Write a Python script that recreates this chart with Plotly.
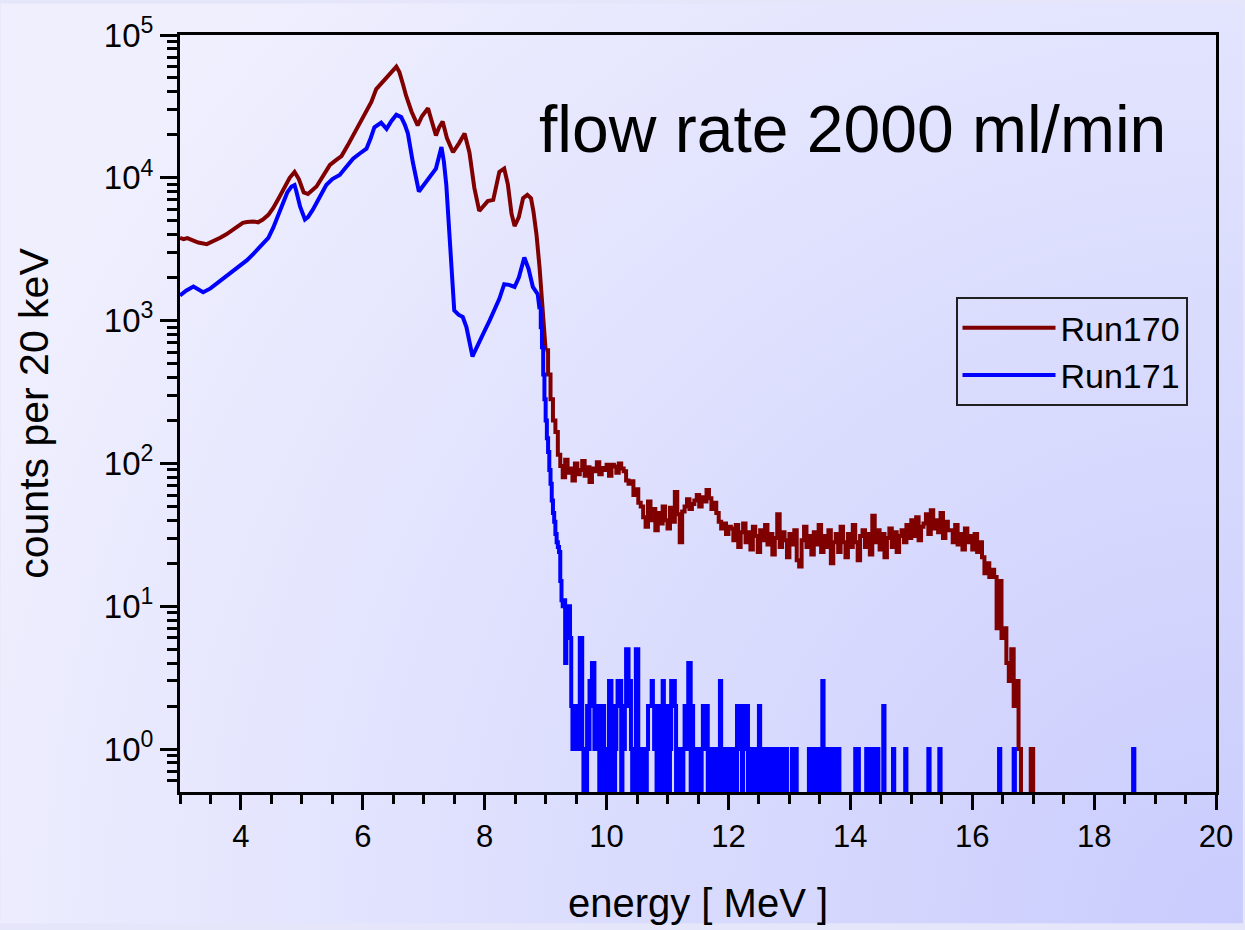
import base64
import numpy as np
import plotly.graph_objects as go

# ---------------------------------------------------------------------------
# Run170: smooth low-energy part, read as (energy [MeV], counts per 20 keV)
run170_knot_e = [3.00, 3.06, 3.12, 3.20, 3.30, 3.44, 3.55, 3.66, 3.76, 3.90,
                 4.03, 4.10, 4.20, 4.28, 4.36, 4.45, 4.53, 4.62, 4.70, 4.80,
                 4.88, 4.95, 5.03, 5.10, 5.24, 5.35, 5.46, 5.56, 5.65, 5.75,
                 5.84, 5.95, 6.06, 6.14, 6.22, 6.30, 6.39, 6.47, 6.55, 6.60,
                 6.66, 6.71, 6.80, 6.90, 6.97, 7.07, 7.13, 7.20, 7.25, 7.31,
                 7.38, 7.48, 7.58, 7.67, 7.75, 7.83, 7.91, 7.98, 8.05, 8.14,
                 8.24, 8.32, 8.38, 8.44, 8.49, 8.56, 8.63, 8.70, 8.76, 8.80,
                 8.85, 8.90, 8.95, 9.00]
run170_knot_n = [3790, 3720, 3780, 3650, 3520, 3430, 3600, 3800, 4020, 4400,
                 4840, 4900, 4950, 4880, 5100, 5500, 6150, 7200, 8460, 10000,
                 11000, 9800, 7900, 7700, 8690, 10500, 12300, 13300, 14200, 16800,
                 19800, 23500, 28800, 34000, 41800, 46000, 50300, 55000, 60000, 55000,
                 45000, 37600, 29000, 23300, 27000, 30700, 25000, 19800, 22500, 24800,
                 19000, 15100, 17500, 20400, 15000, 8500, 5860, 6300, 6870, 7000,
                 11000, 11600, 9000, 5600, 4590, 5300, 7200, 7600, 7200, 5800,
                 4000, 2360, 1300, 620]

# Run170: binned high-energy part, 40 keV steps starting at 9.00 MeV
run170_fine_start = 9.00
run170_fine_step = 0.04
run170_fine_n = [
    620, 420, 281, 200, 166, 115,
    96, 80, 106, 86, 92, 76, 100, 84, 90, 104, 82, 94, 74, 92, 88, 102, 84, 93,
    90, 98, 82, 98, 95, 86, 100, 92,
    88, 76, 72, 75, 60, 66, 53,
    50, 42, 36, 54, 40, 48, 34, 45, 38, 50, 40, 35, 49, 39, 63, 44, 28, 46,
    50, 56, 48, 52, 55, 60, 50, 58, 54, 65, 57, 48, 53,
    45, 39, 35, 38, 32, 36,
    35, 29, 37, 26, 33, 38, 28, 33, 25, 36, 31, 24, 34, 29, 37, 27, 32, 23,
    30, 44, 26, 33, 29, 22, 32, 27, 34, 21, 19, 29, 36, 26, 31, 23, 33, 27,
    37, 24, 31, 26, 34, 20, 28, 32, 24, 36, 28, 22, 32, 26, 37, 28, 21, 31,
    34, 26, 32, 23, 43, 28, 34, 25, 32, 22, 30, 35, 26, 33, 24, 31,
    34, 28, 37, 30, 40, 31, 42, 29, 36, 38, 44, 32, 47, 35, 40, 33, 45, 30,
    39, 34,
    34, 28, 37, 27, 32, 25, 35, 28, 31, 25, 32, 24, 28,
    22, 17, 20, 16, 18, 16, 7, 15, 6, 7, 4, 3, 5, 2, 3, 1, 0, 0, 0, 0, 1, 0,
    0, 0,
]

# Run171: smooth low-energy part
run171_knot_e = [3.00, 3.10, 3.22, 3.30, 3.38, 3.50, 3.60, 3.70, 3.76, 3.88,
                 3.98, 4.10, 4.20, 4.36, 4.45, 4.53, 4.62, 4.69, 4.76, 4.83,
                 4.88, 4.91, 4.97, 5.05, 5.10, 5.18, 5.30, 5.40, 5.50, 5.62,
                 5.72, 5.84, 5.95, 6.06, 6.13, 6.19, 6.30, 6.39, 6.47, 6.55,
                 6.63, 6.69, 6.74, 6.82, 6.92, 7.00, 7.09, 7.20, 7.29, 7.33,
                 7.37, 7.41, 7.45, 7.50, 7.57, 7.64, 7.70, 7.75, 7.80, 7.83,
                 7.90, 8.00, 8.08, 8.16, 8.24, 8.32, 8.40, 8.49, 8.56, 8.65,
                 8.72, 8.79, 8.87, 8.90]
run171_knot_n = [1500, 1620, 1730, 1650, 1580, 1680, 1810, 1950, 2070, 2250,
                 2420, 2650, 2920, 3430, 3800, 4470, 5600, 6860, 7900, 8690,
                 8900, 8020, 6300, 5100, 5300, 5980, 7400, 8910, 9800, 10470,
                 11800, 13600, 14800, 16000, 19000, 22600, 24300, 22000, 25000, 27600,
                 26600, 23500, 20400, 12900, 8020, 8900, 9800, 11600, 16400, 13000,
                 8910, 4500, 2360, 1180, 1100, 1060, 900, 733, 560, 600,
                 700, 850, 1000, 1200, 1420, 1800, 1780, 1720, 2000, 2770,
                 2300, 1720, 1530, 1200]

# Run171: steep edge in 20 keV bins starting at 8.90 MeV
run171_edge_start = 8.90
run171_bin = 0.02
run171_edge_n = [1200, 900, 650, 420, 281, 200, 150, 120, 90, 72, 55, 45, 39,
                 32, 28, 26, 24, 15, 11, 10, 11, 4, 10, 6, 10]

# Run171: occupied 20 keV bins above 9.40 MeV (all other bins are empty)
run171_tail_e = [
    9.40, 9.42, 9.44, 9.46, 9.48, 9.50, 9.52, 9.54, 9.56, 9.58, 9.60, 9.64,
    9.68, 9.70, 9.72, 9.74, 9.76, 9.78, 9.80, 9.82, 9.84, 9.86, 9.90, 9.94,
    9.98, 10.02, 10.04, 10.06, 10.10, 10.14, 10.16, 10.18, 10.20, 10.22, 10.26,
    10.28, 10.30, 10.32, 10.34, 10.36, 10.38, 10.40, 10.44, 10.48, 10.50, 10.54,
    10.58, 10.62, 10.66, 10.68, 10.70, 10.72, 10.74, 10.76, 10.78, 10.80, 10.84,
    10.86, 10.88, 10.92, 10.96, 11.00, 11.04, 11.06, 11.08, 11.10, 11.12, 11.16,
    11.20, 11.26, 11.28, 11.30, 11.32, 11.34, 11.36, 11.40, 11.44, 11.48, 11.52,
    11.56, 11.58, 11.60, 11.62, 11.64, 11.68, 11.72, 11.76, 11.80, 11.82, 11.86,
    11.90, 11.94, 11.98, 12.02, 12.06, 12.10, 12.14, 12.16, 12.18, 12.20, 12.24,
    12.26, 12.28, 12.30, 12.34, 12.38, 12.42, 12.46, 12.50, 12.54, 12.58, 12.62,
    12.66, 12.70, 12.74, 12.78, 12.82, 12.86, 12.94, 13.04, 13.10, 13.32, 13.36,
    13.40, 13.44, 13.48, 13.54, 13.58, 13.62, 13.66, 13.70, 13.74, 13.80, 14.08,
    14.12, 14.26, 14.30, 14.34, 14.40, 14.44, 14.54, 14.70, 14.90, 15.28, 15.46,
    16.44, 16.68, 18.64,
]
run171_tail_n = [
    6, 2, 1, 2, 1, 2, 1, 2, 6, 6, 1, 1,
    2, 1, 3, 2, 4, 4, 1, 2, 1, 2, 1, 2,
    1, 1, 3, 3, 2, 1, 2, 3, 2, 3, 2,
    1, 2, 5, 5, 2, 3, 1, 1, 5, 5, 1,
    1, 1, 1, 2, 2, 2, 3, 2, 1, 2, 1,
    2, 1, 3, 1, 2, 1, 3, 3, 3, 2, 1,
    1, 1, 2, 2, 1, 4, 4, 2, 1, 1, 1,
    1, 2, 2, 1, 2, 1, 1, 1, 1, 1, 3,
    1, 1, 1, 1, 1, 1, 2, 2, 1, 2, 2,
    2, 1, 2, 1, 1, 1, 1, 2, 1, 1, 1,
    1, 1, 1, 1, 1, 1, 1, 1, 1, 1, 1,
    1, 1, 1, 3, 1, 1, 1, 1, 1, 1, 1,
    1, 1, 1, 1, 1, 1, 2, 1, 1, 1, 1,
    1, 1, 1,
]
run171_tail_end = 20.00

y_tick_vals = [1, 10, 100, 1000, 10000, 100000]
y_tick_text = ["10<sup>0</sup>", "10<sup>1</sup>", "10<sup>2</sup>",
               "10<sup>3</sup>", "10<sup>4</sup>", "10<sup>5</sup>"]
x_tick_vals = [4, 6, 8, 10, 12, 14, 16, 18, 20]

RED = "#800000"
BLUE = "#0000ff"
EMPTY = 0.3  # empty bins are drawn below the lower edge of the log axis

# ---------------------------------------------------------------------------
red_fine_e = run170_fine_start + run170_fine_step * np.arange(len(run170_fine_n))
red_fine_y = np.where(np.array(run170_fine_n) > 0, run170_fine_n, EMPTY)

edge_e = run171_edge_start + run171_bin * np.arange(len(run171_edge_n))
tail_e = np.round(np.arange(9.40, run171_tail_end + 1e-9, run171_bin), 2)
tail_n = np.zeros(len(tail_e))
for e, n in zip(run171_tail_e, run171_tail_n):
    tail_n[int(round((e - 9.40) / run171_bin))] = n
blue_fine_e = np.concatenate([edge_e, tail_e])
blue_fine_n = np.concatenate([run171_edge_n, tail_n])
blue_fine_y = np.where(blue_fine_n > 0, blue_fine_n, EMPTY)

LW = 4
fig = go.Figure()
fig.add_trace(go.Scatter(x=run170_knot_e, y=run170_knot_n, mode="lines",
                         line=dict(color=RED, width=LW), name="Run170",
                         legendgroup="170", showlegend=True))
fig.add_trace(go.Scatter(x=red_fine_e, y=red_fine_y, mode="lines",
                         line=dict(color=RED, width=LW, shape="hv"),
                         name="Run170", legendgroup="170", showlegend=False))
fig.add_trace(go.Scatter(x=run171_knot_e, y=run171_knot_n, mode="lines",
                         line=dict(color=BLUE, width=LW), name="Run171",
                         legendgroup="171", showlegend=True))
fig.add_trace(go.Scatter(x=blue_fine_e, y=blue_fine_y, mode="lines",
                         line=dict(color=BLUE, width=LW, shape="hv"),
                         name="Run171", legendgroup="171", showlegend=False))

# soft lavender backdrop, bluer towards the lower right corner
W, H = 1245, 930
L, R, T, B = 180, 27, 32, 133
pw, ph = W - L - R, H - T - B
svg = (
    f'<svg xmlns="http://www.w3.org/2000/svg" width="{W}" height="{H}" '
    f'viewBox="0 0 {W} {H}" preserveAspectRatio="none"><defs>'
    f'<radialGradient id="g" gradientUnits="userSpaceOnUse" cx="{W}" cy="{H}" r="1350">'
    '<stop offset="0" stop-color="#c9ccfd"/><stop offset="1" stop-color="#efeffe"/>'
    f'</radialGradient></defs><rect width="{W}" height="{H}" fill="url(#g)"/></svg>'
)
bg_src = "data:image/svg+xml;base64," + base64.b64encode(svg.encode()).decode()
fig.add_layout_image(dict(source=bg_src, xref="paper", yref="paper",
                          x=-L / pw, y=1 + T / ph, sizex=W / pw, sizey=H / ph,
                          sizing="stretch", xanchor="left", yanchor="top",
                          layer="below"))

FONT = "Liberation Sans, Arial, sans-serif"
minor_y = [k * 10.0 ** d for d in range(-1, 5) for k in range(2, 10)
           if 0.5 < k * 10.0 ** d < 1e5]

fig.update_layout(
    width=W, height=H,
    margin=dict(l=L, r=R, t=T, b=B, pad=0),
    paper_bgcolor="#e6e6fa",
    plot_bgcolor="rgba(0,0,0,0)",
    font=dict(family=FONT, color="black"),
    showlegend=True,
    legend=dict(x=(957 - L) / pw, y=1 - (297 - T) / ph, xanchor="left", yanchor="top",
                bgcolor="rgba(0,0,0,0)", bordercolor="#202020", borderwidth=2,
                font=dict(family=FONT, size=34, color="black"),
                itemwidth=93, traceorder="grouped", tracegroupgap=0),
    annotations=[dict(text="flow rate 2000 ml/min", xref="paper", yref="paper",
                      x=(538 - L) / pw, y=1 - (127 - T) / ph,
                      xanchor="left", yanchor="middle", showarrow=False,
                      font=dict(family=FONT, size=66, color="black"))],
)

fig.update_xaxes(
    range=[3, 20], showgrid=False, zeroline=False,
    showline=True, linecolor="black", linewidth=3, mirror=True,
    tickmode="array", tickvals=x_tick_vals,
    ticks="outside", ticklen=15, tickwidth=3, tickcolor="black",
    tickfont=dict(family=FONT, size=31, color="black"),
    minor=dict(dtick=0.5, tick0=0, ticks="outside", ticklen=9, tickwidth=3,
               tickcolor="black", showgrid=False),
    title=dict(text="energy [ MeV ]", font=dict(family=FONT, size=40, color="black"),
               standoff=36),
)
fig.update_yaxes(
    type="log", range=[np.log10(0.5), 5], showgrid=False, zeroline=False,
    showline=True, linecolor="black", linewidth=3, mirror=True,
    tickmode="array", tickvals=y_tick_vals, ticktext=y_tick_text,
    ticks="outside", ticklen=17, tickwidth=3, tickcolor="black",
    tickfont=dict(family=FONT, size=33, color="black"),
    minor=dict(tickmode="array", tickvals=minor_y, ticks="outside", ticklen=10,
               tickwidth=3, tickcolor="black", showgrid=False),
    title=dict(text="counts per 20 keV", font=dict(family=FONT, size=41, color="black"),
               standoff=43),
)

fig.write_html("out.html")
